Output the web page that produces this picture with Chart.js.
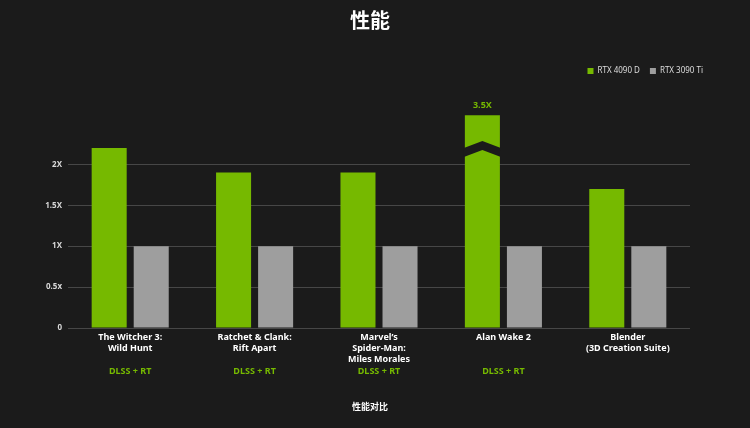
<!DOCTYPE html>
<html><head><meta charset="utf-8">
<script src="https://cdn.jsdelivr.net/npm/chart.js@4"></script>
<style>html,body{margin:0;padding:0;background:#1b1b1b;overflow:hidden}</style>
</head><body>
<canvas id="c" width="750" height="428"></canvas>
<script>
const chartTitle = "性能";
const axisTitle = "性能对比";
const categories = [
  ["The Witcher 3:", "Wild Hunt"],
  ["Ratchet & Clank:", "Rift Apart"],
  ["Marvel\u2019s", "Spider-Man:", "Miles Morales"],
  ["Alan Wake 2"],
  ["Blender", "(3D Creation Suite)"]
];
const features = ["DLSS + RT", "DLSS + RT", "DLSS + RT", "DLSS + RT", ""];
const seriesNames = ["RTX 4090 D", "RTX 3090 Ti"];
const rtx4090d = [2.2, 1.9, 1.9, 3.5, 1.7];
const rtx3090ti = [1, 1, 1, 1, 1];
const breakCap = 2.6;     // values above this are drawn as a broken bar
const breakAt = 2.2;      // where the break mark sits
const yTicks = [0, 0.5, 1, 1.5, 2];
const yTickLabels = ["0", "0.5x", "1X", "1.5X", "2X"];
const valueLabels = ["", "", "", "3.5X", ""];

const GREEN = "#76b900", GRAY = "#9e9e9e", BG = "#1b1b1b";
const LATIN = "'Noto Sans', 'Noto Sans CJK SC', sans-serif";
const CJK = "'Noto Sans CJK SC', 'Noto Sans', sans-serif";

const drawn4090 = rtx4090d.map(v => Math.min(v, breakCap));

const extras = {
  id: "extras",
  beforeDraw(chart) {
    const ctx = chart.ctx;
    ctx.save();
    ctx.fillStyle = BG;
    ctx.fillRect(0, 0, chart.width, chart.height);
    ctx.restore();
  },
  afterDatasetsDraw(chart) {
    const ctx = chart.ctx, y = chart.scales.y;
    const meta = chart.getDatasetMeta(0);
    ctx.save();
    rtx4090d.forEach((v, i) => {
      const bar = meta.data[i];
      if (v > breakCap) {
        const half = bar.width / 2;
        const x0 = bar.x - half - 1, x1 = bar.x + half + 1;
        const yb = y.getPixelForValue(breakAt);
        const rise = 7, thick = 9;
        ctx.fillStyle = BG;
        ctx.beginPath();
        ctx.moveTo(x0, yb);
        ctx.lineTo(bar.x, yb - rise);
        ctx.lineTo(x1, yb);
        ctx.lineTo(x1, yb + thick);
        ctx.lineTo(bar.x, yb + thick - rise);
        ctx.lineTo(x0, yb + thick);
        ctx.closePath();
        ctx.fill();
      }
      if (valueLabels[i]) {
        ctx.fillStyle = GREEN;
        ctx.font = "bold 9px " + LATIN;
        ctx.textAlign = "center";
        ctx.textBaseline = "middle";
        ctx.fillText(valueLabels[i], bar.x, bar.y - 10);
      }
    });
    ctx.restore();
  },
  afterDraw(chart) {
    const ctx = chart.ctx, x = chart.scales.x, area = chart.chartArea;
    ctx.save();
    ctx.textAlign = "center";
    ctx.textBaseline = "middle";
    ctx.fillStyle = GREEN;
    ctx.font = "bold 9px " + LATIN;
    features.forEach((f, i) => {
      if (f) ctx.fillText(f, x.getPixelForValue(i), area.bottom + 43);
    });
    ctx.fillStyle = "#ffffff";
    ctx.font = "bold 20px " + CJK;
    ctx.fillText(chartTitle, 370, 20);
    ctx.font = "bold 9px " + CJK;
    ctx.fillText(axisTitle, 370, 407);
    ctx.restore();
  }
};

new Chart(document.getElementById("c"), {
  type: "bar",
  data: {
    labels: categories,
    datasets: [
      { label: seriesNames[0], data: drawn4090, backgroundColor: GREEN, borderWidth: 0 },
      { label: seriesNames[1], data: rtx3090ti, backgroundColor: GRAY, borderWidth: 0 }
    ]
  },
  options: {
    responsive: false,
    animation: false,
    devicePixelRatio: 1,
    layout: { padding: { top: 57, right: 37, bottom: 0, left: 0 } },
    datasets: { bar: { categoryPercentage: 0.676, barPercentage: 0.833 } },
    plugins: {
      title: { display: false },
      tooltip: { enabled: false },
      legend: {
        position: "top",
        align: "end",
        labels: {
          boxWidth: 6, boxHeight: 6, padding: 10,
          color: "#dddddd",
          font: { size: 8, family: LATIN }
        }
      }
    },
    scales: {
      x: {
        grid: { display: false, drawTicks: false },
        border: { display: false },
        ticks: {
          color: "#ffffff",
          font: { size: 9, weight: "bold", family: LATIN, lineHeight: 1.22 },
          padding: 4,
          maxRotation: 0,
          autoSkip: false
        },
        afterFit(s) { s.height = 100; }
      },
      y: {
        min: 0,
        max: 2.97,
        grid: { color: "#474747", lineWidth: 1, drawTicks: false },
        border: { display: false },
        afterBuildTicks(s) { s.ticks = yTicks.map(v => ({ value: v })); },
        ticks: {
          color: "#d8d8d8",
          font: { size: 8, weight: "bold", family: LATIN },
          padding: 6,
          callback(v) { const k = yTicks.indexOf(v); return k >= 0 ? yTickLabels[k] : ""; }
        },
        afterFit(s) { s.width = 68; }
      },
      y2: {
        position: "right",
        display: true,
        grid: { display: false, drawTicks: false },
        border: { display: false },
        ticks: { display: false },
        afterFit(s) { s.width = 23; }
      }
    }
  },
  plugins: [extras]
});
</script>
</body></html>
